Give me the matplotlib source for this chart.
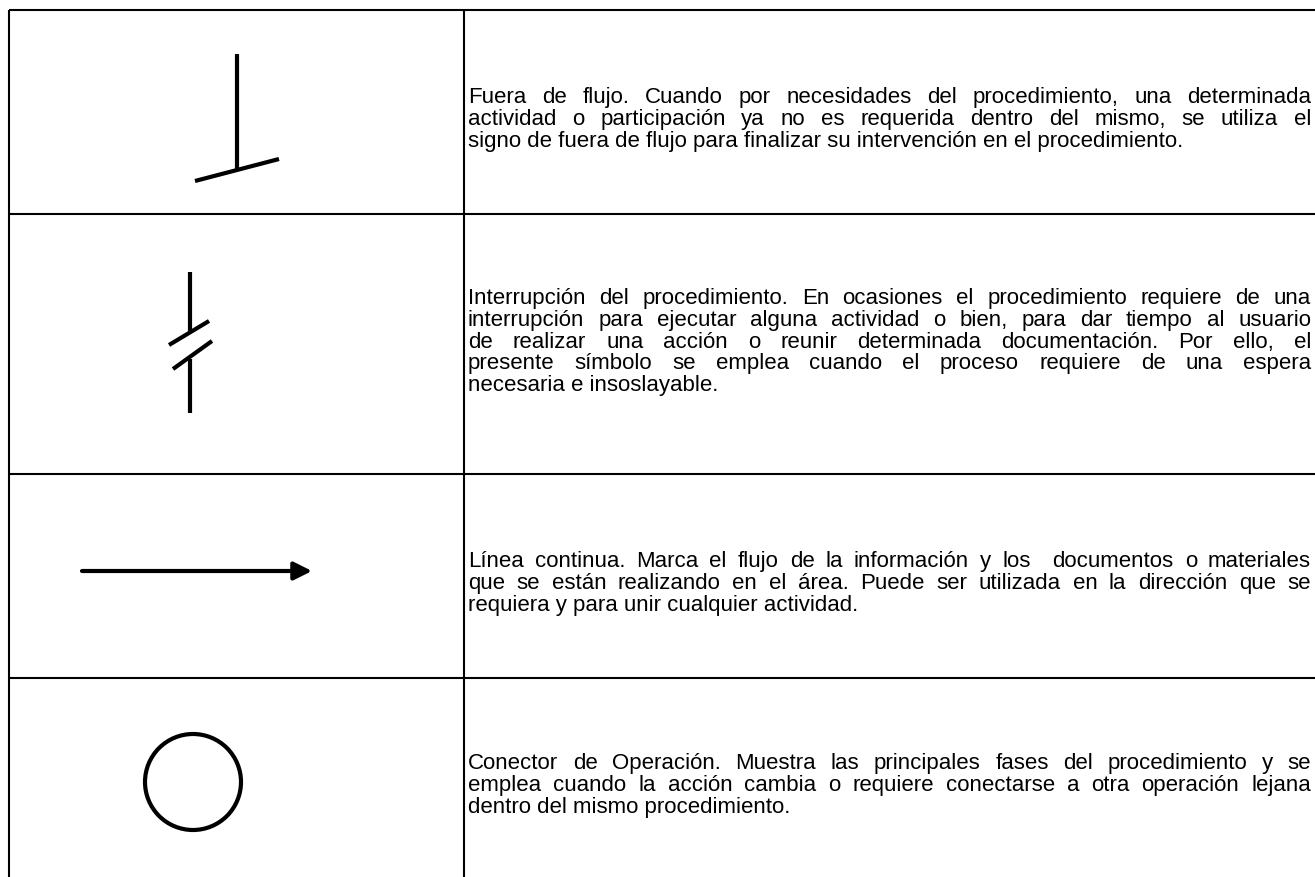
import matplotlib
matplotlib.use("Agg")
import matplotlib.pyplot as plt
from matplotlib.patches import Circle

#---------------------------Table content---------------------------#
row_edges = [11, 215, 475, 679]          # horizontal rules (pixel rows)
col_edges = [9, 464]                      # vertical rules
text_left, text_right = 468, 1311

desc_lines = [
    ["Fuera de flujo. Cuando por necesidades del procedimiento, una determinada",
     "actividad o participación ya no es requerida dentro del mismo, se utiliza el",
     "signo de fuera de flujo para finalizar su intervención en el procedimiento."],
    ["Interrupción del procedimiento. En ocasiones el procedimiento requiere de una",
     "interrupción para ejecutar alguna actividad o bien, para dar tiempo al usuario",
     "de realizar una acción o reunir determinada documentación. Por ello, el",
     "presente símbolo se emplea cuando el proceso requiere de una espera",
     "necesaria e insoslayable."],
    ["Línea continua. Marca el flujo de la información y los  documentos o materiales",
     "que se están realizando en el área. Puede ser utilizada en la dirección que se",
     "requiera y para unir cualquier actividad."],
    ["Conector de Operación. Muestra las principales fases del procedimiento y se",
     "emplea cuando la acción cambia o requiere conectarse a otra operación lejana",
     "dentro del mismo procedimiento."],
]
desc_baselines = [
    [103, 125, 147],
    [304, 326, 348, 369, 391],
    [567, 589, 611],
    [769, 791, 813],
]


#---------------------------Auxiliary-function definitions---------------------------#
def draw_justified(ax, renderer, lines, baselines, font):
    for i, (line, yb) in enumerate(zip(lines, baselines)):
        if i == len(lines) - 1:
            ax.text(text_left, yb, line, ha="left", va="baseline", **font)
            continue
        words = line.split(" ")
        objs, widths = [], []
        for w in words:
            t = ax.text(text_left, yb, w, ha="left", va="baseline", **font)
            objs.append(t)
            widths.append(t.get_window_extent(renderer).width if w else 0.0)
        gap = (text_right - text_left - sum(widths)) / (len(words) - 1)
        x = text_left
        for t, wd in zip(objs, widths):
            t.set_x(x)
            x += wd + gap


#------------------------------------------------------------------------------------#
W, H = 1315, 878
fig = plt.figure(figsize=(W / 100, H / 100), dpi=100)
ax = fig.add_axes([0, 0, 1, 1])
ax.set_xlim(0, W)
ax.set_ylim(H, 0)
ax.axis("off")
renderer = fig.canvas.get_renderer()

grid_lw = 1.5
for y in row_edges:
    ax.plot([col_edges[0], W], [y, y], color="black", lw=grid_lw, solid_capstyle="butt")
for x in col_edges:
    ax.plot([x, x], [row_edges[0], H], color="black", lw=grid_lw, solid_capstyle="butt")

sym_lw = 3.0
# Fuera de flujo
ax.plot([237, 237], [55, 171], color="black", lw=sym_lw, solid_capstyle="butt")
ax.plot([195, 279], [182, 160], color="black", lw=sym_lw, solid_capstyle="butt")
# Interrupcion
ax.plot([190, 190], [273, 332], color="black", lw=sym_lw, solid_capstyle="butt")
ax.plot([169, 209], [346, 322], color="black", lw=sym_lw, solid_capstyle="butt")
ax.plot([173, 212], [370, 342], color="black", lw=sym_lw, solid_capstyle="butt")
ax.plot([190, 190], [360, 414], color="black", lw=sym_lw, solid_capstyle="butt")
# Linea continua
ax.annotate("", xy=(312, 572), xytext=(82, 572),
            arrowprops=dict(arrowstyle="-|>,head_length=0.4,head_width=0.2",
                            lw=3.0, color="black", mutation_scale=27,
                            shrinkA=0, shrinkB=0))
# Conector
ax.add_patch(Circle((193, 783), 48, fill=False, lw=sym_lw, color="black"))

font = dict(family=["Liberation Sans", "DejaVu Sans"], size=16)
for lines, bases in zip(desc_lines, desc_baselines):
    draw_justified(ax, renderer, lines, bases, font)

fig.savefig("out.png", dpi=100)
